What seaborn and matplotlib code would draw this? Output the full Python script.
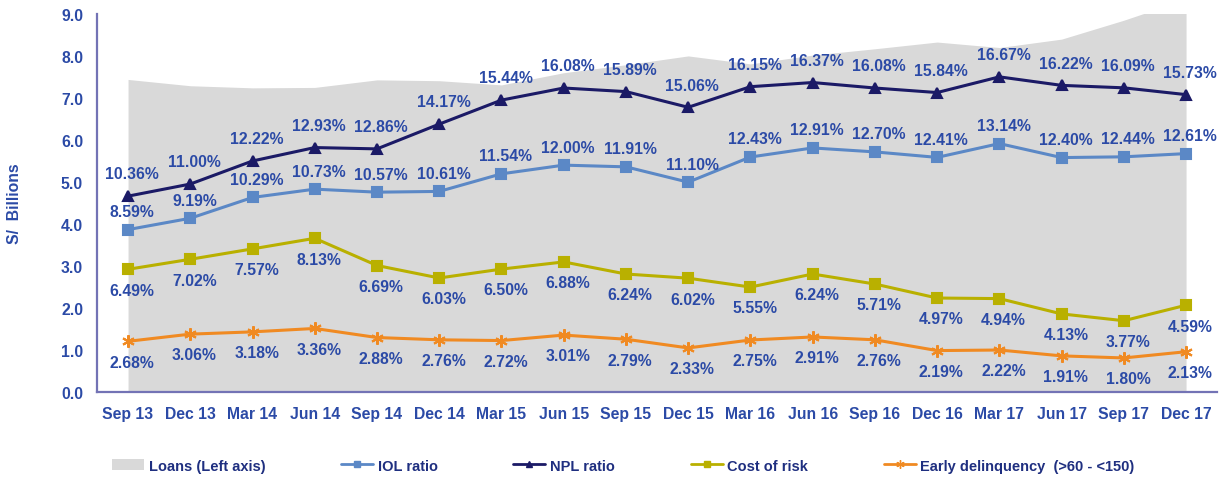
import numpy as np
import pandas as pd
import matplotlib
matplotlib.use("Agg")
import matplotlib.pyplot as plt
import seaborn as sns
from matplotlib.patches import Patch
from matplotlib.lines import Line2D

quarters = ["Sep 13", "Dec 13", "Mar 14", "Jun 14", "Sep 14", "Dec 14", "Mar 15", "Jun 15",
            "Sep 15", "Dec 15", "Mar 16", "Jun 16", "Sep 16", "Dec 16", "Mar 17", "Jun 17",
            "Sep 17", "Dec 17"]
loans = [7.44, 7.29, 7.24, 7.25, 7.43, 7.41, 7.31, 7.60, 7.79, 8.00, 7.81, 8.02, 8.17, 8.33,
         8.20, 8.40, 8.85, 9.35]
iol = [8.59, 9.19, 10.29, 10.73, 10.57, 10.61, 11.54, 12.00, 11.91, 11.10, 12.43, 12.91, 12.70,
       12.41, 13.14, 12.40, 12.44, 12.61]
npl = [10.36, 11.00, 12.22, 12.93, 12.86, 14.17, 15.44, 16.08, 15.89, 15.06, 16.15, 16.37, 16.08,
       15.84, 16.67, 16.22, 16.09, 15.73]
cor = [6.49, 7.02, 7.57, 8.13, 6.69, 6.03, 6.50, 6.88, 6.24, 6.02, 5.55, 6.24, 5.71, 4.97, 4.94,
       4.13, 3.77, 4.59]
early = [2.68, 3.06, 3.18, 3.36, 2.88, 2.76, 2.72, 3.01, 2.79, 2.33, 2.75, 2.91, 2.76, 2.19, 2.22,
         1.91, 1.80, 2.13]

pos = np.arange(len(quarters))
df = pd.DataFrame({"pos": pos, "quarter": quarters, "loans": loans, "IOL ratio": iol,
                   "NPL ratio": npl, "Cost of risk": cor, "Early delinquency": early})

sns.set_theme(style="white")
plt.rcParams['font.family'] = ['Liberation Sans', 'DejaVu Sans']

TXT = "#2b4aa6"
SPINE = "#7373b5"
C_IOL = "#5b88c6"
C_NPL = "#1b1a66"
C_COR = "#b9b000"
C_EARLY = "#f08a22"
C_LOAN = "#d9d9d9"
FS = 11.3

fig = plt.figure(figsize=(12.27, 4.81), dpi=100)
ax = fig.add_axes([0.079, 0.183, 0.913, 0.786])
ax.fill_between(df["pos"], 0, df["loans"], color=C_LOAN, linewidth=0, zorder=1)
ax.set_ylim(0, 9)
ax.set_xlim(-0.5, 17.5)
ax.set_yticks(np.arange(0, 9.01, 1.0))
ax.set_yticklabels([f"{v:.1f}" for v in np.arange(0, 9.01, 1.0)])
ax.set_xticks(pos)
ax.set_xticklabels(quarters)
for lab in ax.get_xticklabels() + ax.get_yticklabels():
    lab.set_fontweight("bold")
    lab.set_color(TXT)
    lab.set_fontsize(FS)
ax.tick_params(axis="x", length=0, pad=10)
ax.tick_params(axis="y", length=0, pad=10)
ax.set_ylabel("S/  Billions", color=TXT, fontweight="bold", fontsize=FS, labelpad=28)
for s in ["top", "right"]:
    ax.spines[s].set_visible(False)
for s in ["left", "bottom"]:
    ax.spines[s].set_color(SPINE)
    ax.spines[s].set_linewidth(1.6)
ax.grid(False)

ax2 = ax.twinx()
ax2.set_ylim(0, 20)
ax2.set_xlim(-0.5, 17.5)
ax2.axis("off")

series = [
    ("IOL ratio", C_IOL, "s", 6.5, 13),
    ("NPL ratio", C_NPL, "^", 6.5, 16),
    ("Cost of risk", C_COR, "s", 7.5, -15),
    ("Early delinquency", C_EARLY, (6, 2, 0), 9, -15),
]
for name, col, mk, ms, off in series:
    sns.lineplot(data=df, x="pos", y=name, ax=ax2, color=col, marker=mk, markersize=ms,
                 markeredgecolor=col, markeredgewidth=1.5, linewidth=2.2, legend=False, zorder=3)
    for x, v in zip(df["pos"], df[name]):
        ax2.annotate(f"{v:.2f}%", (x, v), xytext=(3, off), textcoords="offset points",
                     ha="center", va="center", color=TXT, fontweight="bold", fontsize=FS)

handles = [
    Patch(facecolor=C_LOAN, edgecolor="none"),
    Line2D([], [], color=C_IOL, marker="s", markersize=4, linewidth=2),
    Line2D([], [], color=C_NPL, marker="^", markersize=4, linewidth=2),
    Line2D([], [], color=C_COR, marker="s", markersize=4, linewidth=2),
    Line2D([], [], color=C_EARLY, marker=(6, 2, 0), markersize=6, linewidth=2),
]
labels = ["Loans (Left axis)", "IOL ratio", "NPL ratio", "Cost of risk",
          "Early delinquency  (>60 - <150)"]
leg = fig.legend(handles, labels, loc="center", bbox_to_anchor=(0.508, 0.03), ncol=5,
                 frameon=False, columnspacing=5.2, handlelength=2.2, handletextpad=0.3,
                 prop={"weight": "bold", "size": 10.5})
for t in leg.get_texts():
    t.set_color("#1f2f80")

fig.savefig("out.png", dpi=100)
